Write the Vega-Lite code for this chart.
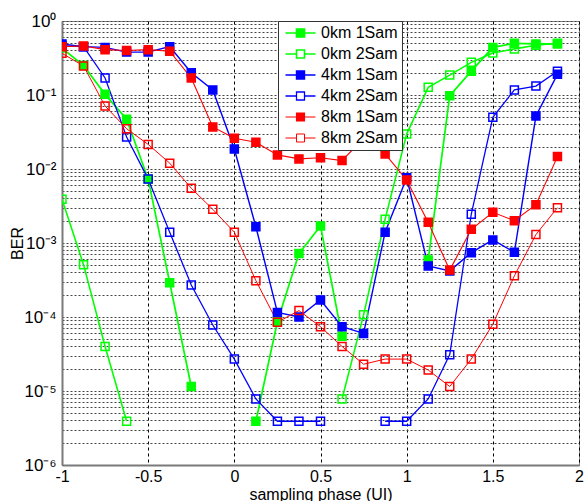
{
  "$schema": "https://vega.github.io/schema/vega-lite/v6.json",
  "width": 517,
  "height": 444,
  "autosize": "none",
  "padding": {"left": 62, "top": 21, "right": 5, "bottom": 36},
  "background": "white",
  "config": {
    "font": "Liberation Sans",
    "view": {"stroke": "#888888", "strokeWidth": 1},
    "axis": {
      "labelFont": "Liberation Sans",
      "labelFontSize": 16,
      "labelColor": "#000000",
      "titleFont": "Liberation Sans",
      "titleFontSize": 16,
      "titleFontWeight": "normal",
      "titleColor": "#000000",
      "domainColor": "#7a7a7a",
      "domainWidth": 2,
      "ticks": false,
      "gridColor": "#444444",
      "gridWidth": 1,
      "gridDash": [2, 2],
      "labelOverlap": false
    },
    "legend": {
      "symbolType": "M-2.5,0H-0.667M0.667,0H2.5M-0.667,-0.667H0.667V0.667H-0.667Z",
      "symbolSize": 144,
      "symbolStrokeWidth": 1.5,
      "symbolOffset": 10.5,
      "labelOffset": 12.5,
      "labelFont": "Liberation Sans",
      "labelFontSize": 16,
      "labelColor": "#000000",
      "padding": 4,
      "rowPadding": 5,
      "strokeColor": "#333333",
      "fillColor": "white"
    }
  },
  "data": {
    "values": [
      {"series": "0km 1Sam", "phase": -1, "ber": 0.43},
      {"series": "0km 1Sam", "phase": -0.875, "ber": 0.25},
      {"series": "0km 1Sam", "phase": -0.75, "ber": 0.102},
      {"series": "0km 1Sam", "phase": -0.625, "ber": 0.047},
      {"series": "0km 1Sam", "phase": -0.5, "ber": 0.0073},
      {"series": "0km 1Sam", "phase": -0.375, "ber": 0.00029},
      {"series": "0km 1Sam", "phase": -0.25, "ber": 0.0000115},
      {"series": "0km 1Sam", "phase": -0.125, "ber": null},
      {"series": "0km 1Sam", "phase": 0, "ber": null},
      {"series": "0km 1Sam", "phase": 0.125, "ber": 0.0000039},
      {"series": "0km 1Sam", "phase": 0.25, "ber": 0.000087},
      {"series": "0km 1Sam", "phase": 0.375, "ber": 0.00072},
      {"series": "0km 1Sam", "phase": 0.5, "ber": 0.0017},
      {"series": "0km 1Sam", "phase": 0.625, "ber": 0.000055},
      {"series": "0km 1Sam", "phase": 0.75, "ber": null},
      {"series": "0km 1Sam", "phase": 0.875, "ber": null},
      {"series": "0km 1Sam", "phase": 1, "ber": null},
      {"series": "0km 1Sam", "phase": 1.125, "ber": 0.00059},
      {"series": "0km 1Sam", "phase": 1.25, "ber": 0.098},
      {"series": "0km 1Sam", "phase": 1.375, "ber": 0.21},
      {"series": "0km 1Sam", "phase": 1.5, "ber": 0.44},
      {"series": "0km 1Sam", "phase": 1.625, "ber": 0.5},
      {"series": "0km 1Sam", "phase": 1.75, "ber": 0.49},
      {"series": "0km 1Sam", "phase": 1.875, "ber": 0.49},

      {"series": "0km 2Sam", "phase": -1, "ber": 0.0039},
      {"series": "0km 2Sam", "phase": -0.875, "ber": 0.00051},
      {"series": "0km 2Sam", "phase": -0.75, "ber": 0.00004},
      {"series": "0km 2Sam", "phase": -0.625, "ber": 0.0000039},
      {"series": "0km 2Sam", "phase": -0.5, "ber": null},
      {"series": "0km 2Sam", "phase": 0.5, "ber": null},
      {"series": "0km 2Sam", "phase": 0.625, "ber": 0.0000078},
      {"series": "0km 2Sam", "phase": 0.75, "ber": 0.000107},
      {"series": "0km 2Sam", "phase": 0.875, "ber": 0.0021},
      {"series": "0km 2Sam", "phase": 1, "ber": 0.0296},
      {"series": "0km 2Sam", "phase": 1.125, "ber": 0.127},
      {"series": "0km 2Sam", "phase": 1.25, "ber": 0.186},
      {"series": "0km 2Sam", "phase": 1.375, "ber": 0.276},
      {"series": "0km 2Sam", "phase": 1.5, "ber": 0.37},
      {"series": "0km 2Sam", "phase": 1.625, "ber": 0.42},
      {"series": "0km 2Sam", "phase": 1.75, "ber": 0.47},
      {"series": "0km 2Sam", "phase": 1.875, "ber": 0.5},

      {"series": "4km 1Sam", "phase": -1, "ber": 0.49},
      {"series": "4km 1Sam", "phase": -0.875, "ber": 0.45},
      {"series": "4km 1Sam", "phase": -0.75, "ber": 0.44},
      {"series": "4km 1Sam", "phase": -0.625, "ber": 0.38},
      {"series": "4km 1Sam", "phase": -0.5, "ber": 0.38},
      {"series": "4km 1Sam", "phase": -0.375, "ber": 0.45},
      {"series": "4km 1Sam", "phase": -0.25, "ber": 0.2},
      {"series": "4km 1Sam", "phase": -0.125, "ber": 0.117},
      {"series": "4km 1Sam", "phase": 0, "ber": 0.0186},
      {"series": "4km 1Sam", "phase": 0.125, "ber": 0.00166},
      {"series": "4km 1Sam", "phase": 0.25, "ber": 0.000115},
      {"series": "4km 1Sam", "phase": 0.375, "ber": 0.0001},
      {"series": "4km 1Sam", "phase": 0.5, "ber": 0.00017},
      {"series": "4km 1Sam", "phase": 0.625, "ber": 0.000074},
      {"series": "4km 1Sam", "phase": 0.75, "ber": 0.00006},
      {"series": "4km 1Sam", "phase": 0.875, "ber": 0.0014},
      {"series": "4km 1Sam", "phase": 1, "ber": 0.0076},
      {"series": "4km 1Sam", "phase": 1.125, "ber": 0.00049},
      {"series": "4km 1Sam", "phase": 1.25, "ber": 0.00042},
      {"series": "4km 1Sam", "phase": 1.375, "ber": 0.00074},
      {"series": "4km 1Sam", "phase": 1.5, "ber": 0.0011},
      {"series": "4km 1Sam", "phase": 1.625, "ber": 0.00075},
      {"series": "4km 1Sam", "phase": 1.75, "ber": 0.052},
      {"series": "4km 1Sam", "phase": 1.875, "ber": 0.19},

      {"series": "4km 2Sam", "phase": -1, "ber": 0.46},
      {"series": "4km 2Sam", "phase": -0.875, "ber": 0.45},
      {"series": "4km 2Sam", "phase": -0.75, "ber": 0.17},
      {"series": "4km 2Sam", "phase": -0.625, "ber": 0.027},
      {"series": "4km 2Sam", "phase": -0.5, "ber": 0.0073},
      {"series": "4km 2Sam", "phase": -0.375, "ber": 0.0014},
      {"series": "4km 2Sam", "phase": -0.25, "ber": 0.00027},
      {"series": "4km 2Sam", "phase": -0.125, "ber": 0.000078},
      {"series": "4km 2Sam", "phase": 0, "ber": 0.000027},
      {"series": "4km 2Sam", "phase": 0.125, "ber": 0.0000078},
      {"series": "4km 2Sam", "phase": 0.25, "ber": 0.0000039},
      {"series": "4km 2Sam", "phase": 0.375, "ber": 0.0000039},
      {"series": "4km 2Sam", "phase": 0.5, "ber": 0.0000039},
      {"series": "4km 2Sam", "phase": 0.625, "ber": null},
      {"series": "4km 2Sam", "phase": 0.75, "ber": null},
      {"series": "4km 2Sam", "phase": 0.875, "ber": 0.0000039},
      {"series": "4km 2Sam", "phase": 1, "ber": 0.0000039},
      {"series": "4km 2Sam", "phase": 1.125, "ber": 0.0000078},
      {"series": "4km 2Sam", "phase": 1.25, "ber": 0.000031},
      {"series": "4km 2Sam", "phase": 1.375, "ber": 0.00245},
      {"series": "4km 2Sam", "phase": 1.5, "ber": 0.05},
      {"series": "4km 2Sam", "phase": 1.625, "ber": 0.117},
      {"series": "4km 2Sam", "phase": 1.75, "ber": 0.132},
      {"series": "4km 2Sam", "phase": 1.875, "ber": 0.21},

      {"series": "8km 1Sam", "phase": -1, "ber": 0.45},
      {"series": "8km 1Sam", "phase": -0.875, "ber": 0.46},
      {"series": "8km 1Sam", "phase": -0.75, "ber": 0.41},
      {"series": "8km 1Sam", "phase": -0.625, "ber": 0.4},
      {"series": "8km 1Sam", "phase": -0.5, "ber": 0.41},
      {"series": "8km 1Sam", "phase": -0.375, "ber": 0.39},
      {"series": "8km 1Sam", "phase": -0.25, "ber": 0.17},
      {"series": "8km 1Sam", "phase": -0.125, "ber": 0.037},
      {"series": "8km 1Sam", "phase": 0, "ber": 0.026},
      {"series": "8km 1Sam", "phase": 0.125, "ber": 0.023},
      {"series": "8km 1Sam", "phase": 0.25, "ber": 0.0155},
      {"series": "8km 1Sam", "phase": 0.375, "ber": 0.0137},
      {"series": "8km 1Sam", "phase": 0.5, "ber": 0.0142},
      {"series": "8km 1Sam", "phase": 0.625, "ber": 0.013},
      {"series": "8km 1Sam", "phase": 0.75, "ber": 0.026},
      {"series": "8km 1Sam", "phase": 0.875, "ber": 0.016},
      {"series": "8km 1Sam", "phase": 1, "ber": 0.0071},
      {"series": "8km 1Sam", "phase": 1.125, "ber": 0.0019},
      {"series": "8km 1Sam", "phase": 1.25, "ber": 0.00043},
      {"series": "8km 1Sam", "phase": 1.375, "ber": 0.00153},
      {"series": "8km 1Sam", "phase": 1.5, "ber": 0.0026},
      {"series": "8km 1Sam", "phase": 1.625, "ber": 0.002},
      {"series": "8km 1Sam", "phase": 1.75, "ber": 0.0033},
      {"series": "8km 1Sam", "phase": 1.875, "ber": 0.0147},

      {"series": "8km 2Sam", "phase": -1, "ber": 0.366},
      {"series": "8km 2Sam", "phase": -0.875, "ber": 0.247},
      {"series": "8km 2Sam", "phase": -0.75, "ber": 0.071},
      {"series": "8km 2Sam", "phase": -0.625, "ber": 0.035},
      {"series": "8km 2Sam", "phase": -0.5, "ber": 0.0215},
      {"series": "8km 2Sam", "phase": -0.375, "ber": 0.012},
      {"series": "8km 2Sam", "phase": -0.25, "ber": 0.0055},
      {"series": "8km 2Sam", "phase": -0.125, "ber": 0.00285},
      {"series": "8km 2Sam", "phase": 0, "ber": 0.0014},
      {"series": "8km 2Sam", "phase": 0.125, "ber": 0.00031},
      {"series": "8km 2Sam", "phase": 0.25, "ber": 0.000085},
      {"series": "8km 2Sam", "phase": 0.375, "ber": 0.000122},
      {"series": "8km 2Sam", "phase": 0.5, "ber": 0.000074},
      {"series": "8km 2Sam", "phase": 0.625, "ber": 0.00004},
      {"series": "8km 2Sam", "phase": 0.75, "ber": 0.000023},
      {"series": "8km 2Sam", "phase": 0.875, "ber": 0.000027},
      {"series": "8km 2Sam", "phase": 1, "ber": 0.000027},
      {"series": "8km 2Sam", "phase": 1.125, "ber": 0.0000192},
      {"series": "8km 2Sam", "phase": 1.25, "ber": 0.0000115},
      {"series": "8km 2Sam", "phase": 1.375, "ber": 0.000027},
      {"series": "8km 2Sam", "phase": 1.5, "ber": 0.00008},
      {"series": "8km 2Sam", "phase": 1.625, "ber": 0.00036},
      {"series": "8km 2Sam", "phase": 1.75, "ber": 0.0013},
      {"series": "8km 2Sam", "phase": 1.875, "ber": 0.003}
    ]
  },
  "encoding": {
    "x": {
      "field": "phase",
      "type": "quantitative",
      "scale": {"domain": [-1, 2], "nice": false, "zero": false},
      "axis": {
        "title": "sampling phase (UI)",
        "values": [-1, -0.5, 0, 0.5, 1, 1.5, 2],
        "labelExpr": "'' + datum.value",
        "labelFlush": false,
        "labelPadding": 3,
        "gridDash": [3, 3],
        "gridColor": "#000000",
        "titleBaseline": "alphabetic",
        "titleY": 34
      }
    },
    "y": {
      "field": "ber",
      "type": "quantitative",
      "scale": {"type": "log", "domain": [1e-6, 1], "nice": false},
      "axis": {
        "title": "BER",
        "values": [1e-6, 2e-6, 3e-6, 4e-6, 5e-6, 6e-6, 7e-6, 8e-6, 9e-6,
                   1e-5, 2e-5, 3e-5, 4e-5, 5e-5, 6e-5, 7e-5, 8e-5, 9e-5,
                   1e-4, 2e-4, 3e-4, 4e-4, 5e-4, 6e-4, 7e-4, 8e-4, 9e-4,
                   1e-3, 2e-3, 3e-3, 4e-3, 5e-3, 6e-3, 7e-3, 8e-3, 9e-3,
                   1e-2, 2e-2, 3e-2, 4e-2, 5e-2, 6e-2, 7e-2, 8e-2, 9e-2,
                   1e-1, 2e-1, 3e-1, 4e-1, 5e-1, 6e-1, 7e-1, 8e-1, 9e-1, 1],
        "labelExpr": "datum.value==1?'10⁰':datum.value==0.1?'10⁻¹':datum.value==0.01?'10⁻²':datum.value==0.001?'10⁻³':datum.value==0.0001?'10⁻⁴':datum.value==0.00001?'10⁻⁵':datum.value==0.000001?'10⁻⁶':''",
        "labelFontSize": 17,
        "labelPadding": 6,
        "titleX": -45,
        "titleY": 222,
        "titleAngle": -90,
        "titleAlign": "center",
        "titleBaseline": "middle"
      }
    }
  },
  "layer": [
    {
      "mark": {"type": "line", "clip": true},
      "encoding": {
        "stroke": {
          "field": "series",
          "type": "nominal",
          "scale": {
            "domain": ["0km 1Sam", "0km 2Sam", "4km 1Sam", "4km 2Sam", "8km 1Sam", "8km 2Sam"],
            "range": ["#00ff00", "#00ff00", "#0000ff", "#0000ff", "#ff0000", "#ff0000"]
          },
          "legend": {"orient": "none", "legendX": 216, "legendY": 0, "title": null}
        },
        "strokeWidth": {
          "field": "series",
          "type": "nominal",
          "scale": {
            "domain": ["0km 1Sam", "0km 2Sam", "4km 1Sam", "4km 2Sam", "8km 1Sam", "8km 2Sam"],
            "range": [1.7, 1, 1.7, 1, 1.7, 1]
          },
          "legend": null
        }
      }
    },
    {
      "mark": {"type": "point", "shape": "square", "size": 64, "strokeWidth": 1.5, "opacity": 1, "clip": true},
      "encoding": {
        "stroke": {
          "field": "series",
          "type": "nominal",
          "legend": {"orient": "none", "legendX": 216, "legendY": 0, "title": null}
        },
        "fill": {
          "field": "series",
          "type": "nominal",
          "scale": {
            "domain": ["0km 1Sam", "0km 2Sam", "4km 1Sam", "4km 2Sam", "8km 1Sam", "8km 2Sam"],
            "range": ["#00ff00", "transparent", "#0000ff", "transparent", "#ff0000", "transparent"]
          },
          "legend": {"orient": "none", "legendX": 216, "legendY": 0, "title": null}
        }
      }
    }
  ]
}
